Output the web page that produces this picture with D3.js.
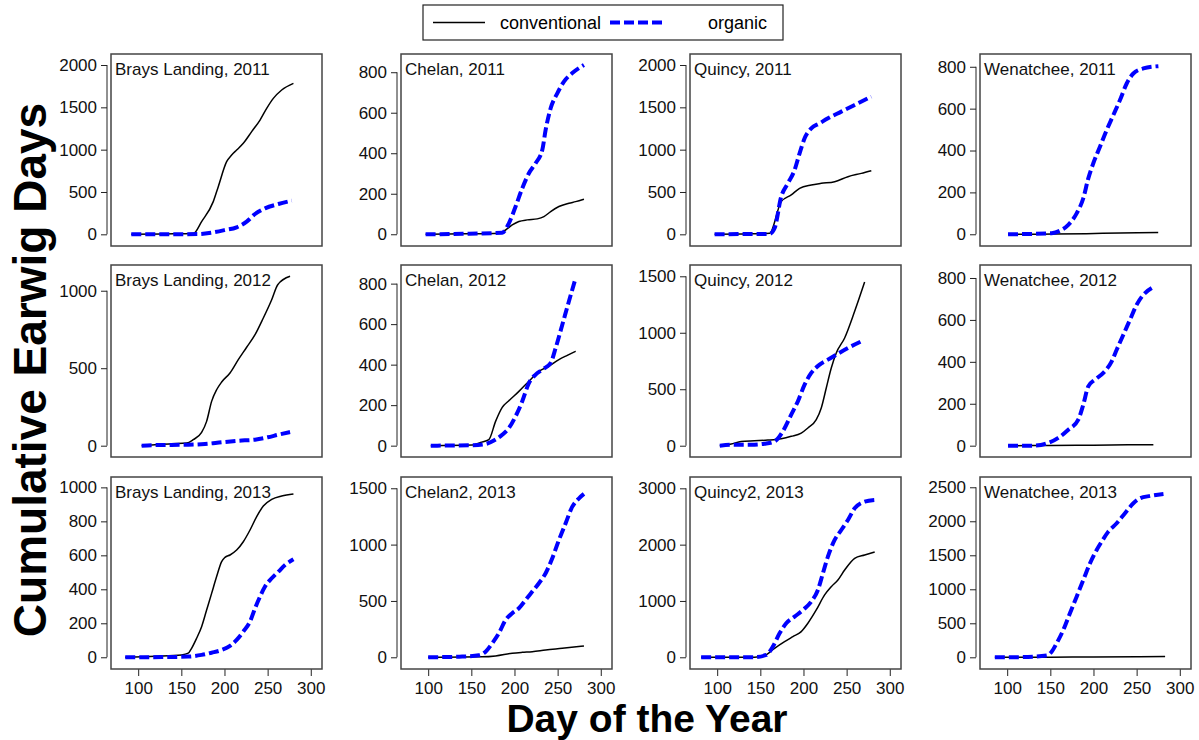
<!DOCTYPE html>
<html>
<head>
<meta charset="utf-8">
<script src="https://cdn.jsdelivr.net/npm/d3@7"></script>
<style>
  body { margin: 0; background: #fff; }
  svg { font-family: "Liberation Sans", Arial, Helvetica, sans-serif; }
</style>
</head>
<body>
<div id="chart"></div>
<script>
'use strict';

// day-of-year ticks on the bottom row
var xTicks = [100, 150, 200, 250, 300];
var xLimits = [68.5, 313];

var panelTitles = [
	'Brays Landing, 2011', 'Chelan, 2011', 'Quincy, 2011', 'Wenatchee, 2011',
	'Brays Landing, 2012', 'Chelan, 2012', 'Quincy, 2012', 'Wenatchee, 2012',
	'Brays Landing, 2013', 'Chelan2, 2013', 'Quincy2, 2013', 'Wenatchee, 2013'
];

var yTicks = [
	[0, 500, 1000, 1500, 2000], [0, 200, 400, 600, 800], [0, 500, 1000, 1500, 2000], [0, 200, 400, 600, 800],
	[0, 500, 1000], [0, 200, 400, 600, 800], [0, 500, 1000, 1500], [0, 200, 400, 600, 800],
	[0, 200, 400, 600, 800, 1000], [0, 500, 1000, 1500], [0, 1000, 2000, 3000], [0, 500, 1000, 1500, 2000, 2500]
];

var yLimits = [
	[-138, 2130], [-58, 890], [-138, 2130], [-56, 861],
	[-73, 1166], [-56, 892], [-100, 1600], [-54, 862],
	[-69, 1061], [-104, 1600], [-208, 3201], [-172, 2651]
];

// [day, cumulative earwig days]
var braysLanding2011Conv = [[92, 0], [130, 5], [164, 10], [173.5, 150], [187, 386], [192.8, 563], [202.5, 858], [208.3, 937], [214.1, 996], [221.8, 1075], [231.5, 1213], [241.2, 1350], [248.9, 1488], [256.6, 1606], [266.3, 1705], [279.9, 1783]];
var braysLanding2011Org = [[92, 0], [130, 0], [169.6, 3], [185, 20], [200.6, 51], [214.1, 83], [225.7, 150], [235.4, 240], [247, 307], [262.5, 358], [277.9, 398]];

var chelan2011Conv = [[97, 0], [140, 2], [181.9, 5], [189.7, 21], [197.4, 46], [205.1, 63], [214.8, 71], [226.4, 76], [234.1, 87], [241.9, 112], [251.5, 137], [263.1, 153], [270.9, 161], [280.5, 173]];
var chelan2011Org = [[97, 0], [140, 2], [185.8, 8], [193.5, 54], [201.3, 137], [209, 227], [216.7, 301], [224.5, 351], [232.2, 416], [236.1, 515], [241.9, 622], [249.6, 696], [257.3, 754], [267, 796], [280.5, 836]];

var quincy2011Conv = [[97, 0], [130, 5], [160.7, 12], [174.2, 386], [185.8, 465], [195.5, 543], [209, 583], [220.6, 602], [236.1, 622], [251.5, 681], [267, 720], [278.6, 752]];
var quincy2011Org = [[97, 0], [130, 3], [160.7, 5], [166.5, 71], [174.2, 445], [181.9, 602], [189.7, 760], [195.5, 957], [201.3, 1134], [209, 1252], [218.7, 1311], [228.4, 1370], [243.8, 1449], [259.3, 1528], [278.6, 1626]];

var wenatchee2011Conv = [[101, 0], [153, 1], [192, 3], [231, 6], [275, 8]];
var wenatchee2011Org = [[101, 0], [151.5, 5], [161.1, 17], [170.8, 45], [180.5, 100], [188.2, 172], [194, 267], [199.8, 339], [207.5, 418], [215.3, 498], [223, 569], [230.7, 641], [238.5, 720], [246.2, 768], [257.8, 792], [275.2, 803]];

var braysLanding2012Conv = [[104, 0], [119.4, 6], [138.7, 13], [156.1, 17], [163.8, 39], [173.5, 86], [179.3, 157], [185.1, 286], [190.9, 361], [196.7, 411], [206.4, 469], [216, 555], [225.7, 635], [235.4, 716], [245, 824], [254.7, 942], [261.7, 1039], [276, 1093]];
var braysLanding2012Org = [[104, 0], [119.4, 4], [158, 6], [177.4, 11], [196.7, 22], [216, 32], [235.4, 39], [250, 54], [262.4, 71], [276, 88]];

var chelan2012Conv = [[103, 0], [151, 3], [160.7, 16], [170.3, 30], [178.1, 120], [185.8, 189], [193.5, 222], [205.1, 268], [216.7, 318], [228.3, 367], [239.9, 392], [251.5, 425], [261.2, 446], [270.9, 466]];
var chelan2012Org = [[103, 0], [151, 2], [166.5, 8], [176.1, 25], [185.8, 54], [193.5, 87], [201.3, 145], [209, 219], [216.7, 309], [224.5, 351], [232.2, 375], [241.9, 408], [247.7, 482], [255.4, 597], [263.1, 713], [270.9, 828]];

var quincy2012Conv = [[103, 0], [116.2, 15], [127.8, 38], [143.3, 44], [158.7, 50], [174.2, 62], [185.8, 83], [197.4, 112], [205.1, 157], [214.8, 230], [220.6, 334], [226.4, 511], [232.2, 688], [238, 821], [247.7, 954], [259.3, 1190], [270.9, 1450]];
var quincy2012Org = [[103, 0], [120.1, 9], [139.4, 9], [154.9, 18], [166.5, 38], [176.1, 127], [185.8, 275], [193.5, 393], [201.3, 540], [209, 644], [218.7, 718], [228.3, 762], [238, 806], [251.5, 865], [267, 924]];

var wenatchee2012Conv = [[101, 0], [150, 1], [200, 2], [240, 4], [269.4, 5]];
var wenatchee2012Org = [[101, 0], [130.2, 0], [147.6, 13], [159.2, 37], [170.8, 76], [182.4, 124], [188.2, 196], [194, 283], [201.7, 315], [211.4, 347], [221.1, 402], [226.9, 458], [234.6, 529], [242.3, 601], [250.1, 673], [257.8, 720], [267.5, 752]];

var braysLanding2013Conv = [[85, 0], [120, 6], [150.3, 14], [158, 24], [161.9, 53], [167.7, 112], [173.5, 180], [179.3, 278], [185.1, 376], [190.9, 475], [196.7, 563], [200.6, 588], [206.4, 602], [214.1, 631], [221.8, 680], [229.6, 749], [237.3, 828], [245, 890], [254.7, 929], [266.3, 949], [279.9, 961]];
var braysLanding2013Org = [[85, 0], [127.1, 1], [158, 4], [173.5, 14], [185.1, 27], [196.7, 43], [206.4, 67], [214.1, 102], [221.8, 151], [229.6, 210], [235.4, 288], [241.2, 357], [247, 416], [254.7, 465], [262.5, 504], [270.2, 543], [279.9, 577]];

var chelan2Conv2013 = [[100, 0], [162.6, 4], [178.1, 12], [197.4, 36], [209, 44], [220.6, 50], [236.1, 65], [255.4, 80], [280.5, 101]];
var chelan2Org2013 = [[100, 0], [120.1, 2], [139.4, 6], [158.7, 18], [166.5, 50], [174.2, 124], [181.9, 213], [189.7, 331], [197.4, 391], [205.1, 435], [212.9, 509], [220.6, 583], [228.3, 657], [236.1, 746], [243.8, 879], [251.5, 1041], [259.3, 1190], [267, 1337], [274.8, 1411], [280.5, 1450]];

var quincy2Conv2013 = [[81.4, 0], [143.3, 2], [154.9, 30], [166.5, 160], [178.1, 278], [187.7, 367], [197.4, 456], [205.1, 604], [214.8, 840], [224.5, 1107], [232.2, 1254], [239.9, 1373], [247.7, 1550], [259.3, 1757], [270.9, 1816], [282.5, 1870]];
var quincy2Org2013 = [[81.4, 0], [143.3, 2], [156.8, 41], [164.5, 189], [172.3, 426], [180, 604], [189.7, 722], [199.4, 840], [209, 988], [216.7, 1195], [222.5, 1491], [228.3, 1787], [236.1, 2083], [243.8, 2260], [251.5, 2438], [259.3, 2645], [270.9, 2763], [282.5, 2793]];

var wenatchee2013Conv = [[85.7, 0], [150, 2], [200, 4], [250, 7], [283, 10]];
var wenatchee2013Org = [[85.7, 0], [114.7, 2], [145.7, 25], [151.5, 83], [157.3, 206], [165, 402], [172.7, 647], [180.5, 892], [188.2, 1137], [196, 1382], [203.7, 1578], [209.5, 1701], [217.2, 1848], [226.9, 1971], [236.5, 2118], [246.2, 2265], [254, 2338], [265.6, 2373], [281.1, 2402]];

var conventionalSeries = [
	braysLanding2011Conv, chelan2011Conv, quincy2011Conv, wenatchee2011Conv,
	braysLanding2012Conv, chelan2012Conv, quincy2012Conv, wenatchee2012Conv,
	braysLanding2013Conv, chelan2Conv2013, quincy2Conv2013, wenatchee2013Conv
];
var organicSeries = [
	braysLanding2011Org, chelan2011Org, quincy2011Org, wenatchee2011Org,
	braysLanding2012Org, chelan2012Org, quincy2012Org, wenatchee2012Org,
	braysLanding2013Org, chelan2Org2013, quincy2Org2013, wenatchee2013Org
];

var svg = d3.select('#chart')
	.append('svg')
	.attr('width', 1199)
	.attr('height', 740);

// panel grid
var COL_LEFT = [111, 401, 690, 980];
var ROW_TOP = [54, 265, 477];
var PANEL_W = 211;
var PANEL_H = 192;
var BLUE = '#0000ff';

panelTitles.forEach(function (title, i) {
	var row = Math.floor(i / 4);
	var col = i % 4;
	var g = svg.append('g')
		.attr('transform', 'translate(' + COL_LEFT[col] + ',' + ROW_TOP[row] + ')');

	var xScale = d3.scaleLinear().domain(xLimits).range([0, PANEL_W]);
	var yScale = d3.scaleLinear().domain(yLimits[i]).range([PANEL_H, 0]);

	var line = d3.line()
		.x(function (d) { return xScale(d[0]); })
		.y(function (d) { return yScale(d[1]); })
		.curve(d3.curveMonotoneX);

	// y axis
	var yAxis = d3.axisLeft(yScale).tickValues(yTicks[i]).tickFormat(d3.format('d'))
		.tickSizeInner(6).tickSizeOuter(0).tickPadding(4);
	var ya = g.append('g').attr('transform', 'translate(-4,0)').call(yAxis);
	ya.select('.domain').attr('d', 'M0,' + yScale(yTicks[i][0]) + 'V' + yScale(yTicks[i][yTicks[i].length - 1]));
	ya.selectAll('text').style('font-size', '17px').attr('fill', '#111');
	ya.selectAll('line, path').attr('stroke', '#222');

	// x axis only on bottom row
	if (row === 2) {
		var xAxis = d3.axisBottom(xScale).tickValues(xTicks).tickFormat(d3.format('d'))
			.tickSizeInner(7).tickSizeOuter(0).tickPadding(6);
		var xa = g.append('g').attr('transform', 'translate(0,' + PANEL_H + ')').call(xAxis);
		xa.select('.domain').remove();
		xa.selectAll('text').style('font-size', '17px').attr('fill', '#111');
		xa.selectAll('line').attr('stroke', '#222');
	}

	g.append('path')
		.datum(conventionalSeries[i])
		.attr('d', line)
		.attr('fill', 'none')
		.attr('stroke', '#000')
		.attr('stroke-width', 1.5);

	g.append('path')
		.datum(organicSeries[i])
		.attr('d', line)
		.attr('fill', 'none')
		.attr('stroke', BLUE)
		.attr('stroke-width', 4)
		.attr('stroke-dasharray', '10,4');

	g.append('rect')
		.attr('width', PANEL_W)
		.attr('height', PANEL_H)
		.attr('fill', 'none')
		.attr('stroke', '#444')
		.attr('stroke-width', 1.5);

	g.append('text')
		.attr('x', 4)
		.attr('y', 20.5)
		.style('font-size', '17px')
		.attr('fill', '#111')
		.text(title);
});

// legend
var legend = svg.append('g').attr('transform', 'translate(423,5)');
legend.append('rect')
	.attr('width', 360).attr('height', 35)
	.attr('fill', 'none').attr('stroke', '#222').attr('stroke-width', 1.2);
legend.append('line')
	.attr('x1', 10).attr('x2', 62).attr('y1', 17.5).attr('y2', 17.5)
	.attr('stroke', '#000').attr('stroke-width', 1.5);
legend.append('text')
	.attr('x', 77).attr('y', 23.5).style('font-size', '18px').text('conventional');
legend.append('line')
	.attr('x1', 187).attr('x2', 242).attr('y1', 17.5).attr('y2', 17.5)
	.attr('stroke', BLUE).attr('stroke-width', 4).attr('stroke-dasharray', '10,4');
legend.append('text')
	.attr('x', 285).attr('y', 23.5).style('font-size', '18px').text('organic');

// axis titles
svg.append('text')
	.attr('transform', 'translate(46,370) rotate(-90)')
	.attr('text-anchor', 'middle')
	.style('font-size', '46px')
	.style('font-weight', 'bold')
	.text('Cumulative Earwig Days');

svg.append('text')
	.attr('x', 647)
	.attr('y', 732)
	.attr('text-anchor', 'middle')
	.style('font-size', '39px')
	.style('font-weight', 'bold')
	.text('Day of the Year');
</script>
</body>
</html>
